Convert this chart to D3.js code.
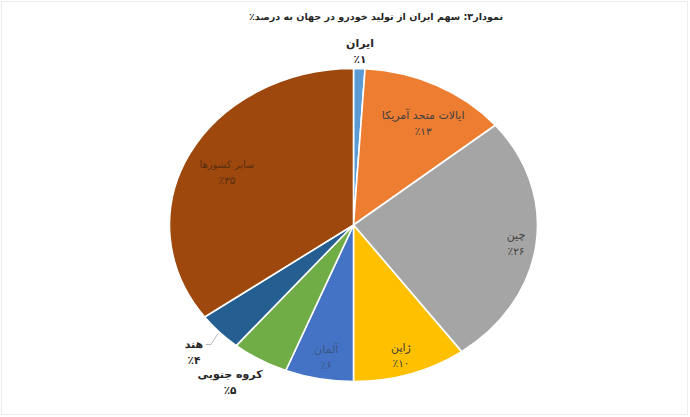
<!DOCTYPE html>
<html><head><meta charset="utf-8">
<script src="https://cdn.jsdelivr.net/npm/d3@7"></script>
<style>
html,body{margin:0;padding:0;background:#fff;}
svg{display:block;}
text{font-family:"DejaVu Sans",sans-serif;}
</style></head>
<body>
<svg id="chart" width="690" height="417"></svg>
<script>
// ---- data ----
const categories = ["ایران","ایالات متحد آمریکا","چین","ژاپن","آلمان","کروه جنوبی","هند","سایر کشورها"];
const values = [1, 13, 26, 10, 6, 5, 4, 35];
const valueLabels = ["٪۱","٪۱۳","٪۲۶","٪۱۰","٪۶","٪۵","٪۴","٪۳۵"];
const colors = ["#5B9BD5","#ED7D31","#A5A5A5","#FFC000","#4472C4","#70AD47","#255E91","#9E480E"];
const title = "نمودار۳: سهم ایران از تولید خودرو در جهان به درصد٪";

// ---- layout ----
const W = 690, H = 417;
const cx = 353.5, cy = 225, rx = 184, ry = 156.5;
// label radius factor (fraction of radius), small nudges and text colour per slice
const labelFactor = [1.12, 0.75, 0.89, 0.87, 0.85, 1.2, 1.19, 0.79];
const labelNudge = [[0,0],[7,2],[0,0],[-2,0],[2,0],[-11,-6],[0,-1],[3,2]];
const labelColor = ["#262626","#404040","#404040","#404040","#3b5688","#262626","#262626","#5a2f10"];
const labelBold = [true, false, false, false, false, true, true, false];

const svg = d3.select("#chart");
svg.append("rect").attr("x",1.5).attr("y",1.5).attr("width",W-4).attr("height",H-4)
  .attr("fill","#fff").attr("stroke","#ececec").attr("stroke-width",1);

svg.append("text").attr("x",376).attr("y",20).attr("text-anchor","middle")
  .attr("direction","rtl").style("unicode-bidi","plaintext")
  .attr("font-size",9.6).attr("font-weight","bold").attr("fill","#262626").text(title);

const pie = d3.pie().sort(null).value(d => d)(values);
const arc = d3.arc().innerRadius(0).outerRadius(ry);

const g = svg.append("g").attr("transform",`translate(${cx},${cy}) scale(${rx/ry},1)`);
g.selectAll("path").data(pie).enter().append("path")
  .attr("d", arc).attr("fill",(d,i)=>colors[i])
  .attr("stroke","#fff").attr("stroke-width",1.6).attr("vector-effect","non-scaling-stroke");

function pt(angle, f){ return [cx + rx*f*Math.sin(angle), cy - ry*f*Math.cos(angle)]; }

const lg = svg.append("g");
pie.forEach((d,i)=>{
  const a = (d.startAngle + d.endAngle)/2;
  let [x,y] = pt(a, labelFactor[i]);
  x += labelNudge[i][0]; y += labelNudge[i][1];
  const t = lg.append("g").attr("transform",`translate(${x},${y})`);
  t.append("text").attr("y",-3).attr("text-anchor","middle").attr("direction","rtl")
    .attr("font-size",i===7?10:11).attr("font-weight",labelBold[i]?"bold":"normal")
    .attr("fill",labelColor[i]).text(categories[i]);
  t.append("text").attr("y",13).attr("text-anchor","middle")
    .attr("font-size",10.5).attr("font-weight",labelBold[i]?"bold":"normal")
    .attr("fill",labelColor[i]).text(valueLabels[i]);
});

// leader line for India
{
  const i = 6, d = pie[i];
  const a = (d.startAngle + d.endAngle)/2;
  const [ex,ey] = pt(a, 1.0);
  const [lx,ly] = pt(a, labelFactor[i]);
  lg.append("polyline")
    .attr("points",`${lx+12},${ly-8} ${lx+17},${ly-8} ${ex-1},${ey+1}`)
    .attr("fill","none").attr("stroke","#a6a6a6").attr("stroke-width",0.8);
}
</script>
</body></html>
